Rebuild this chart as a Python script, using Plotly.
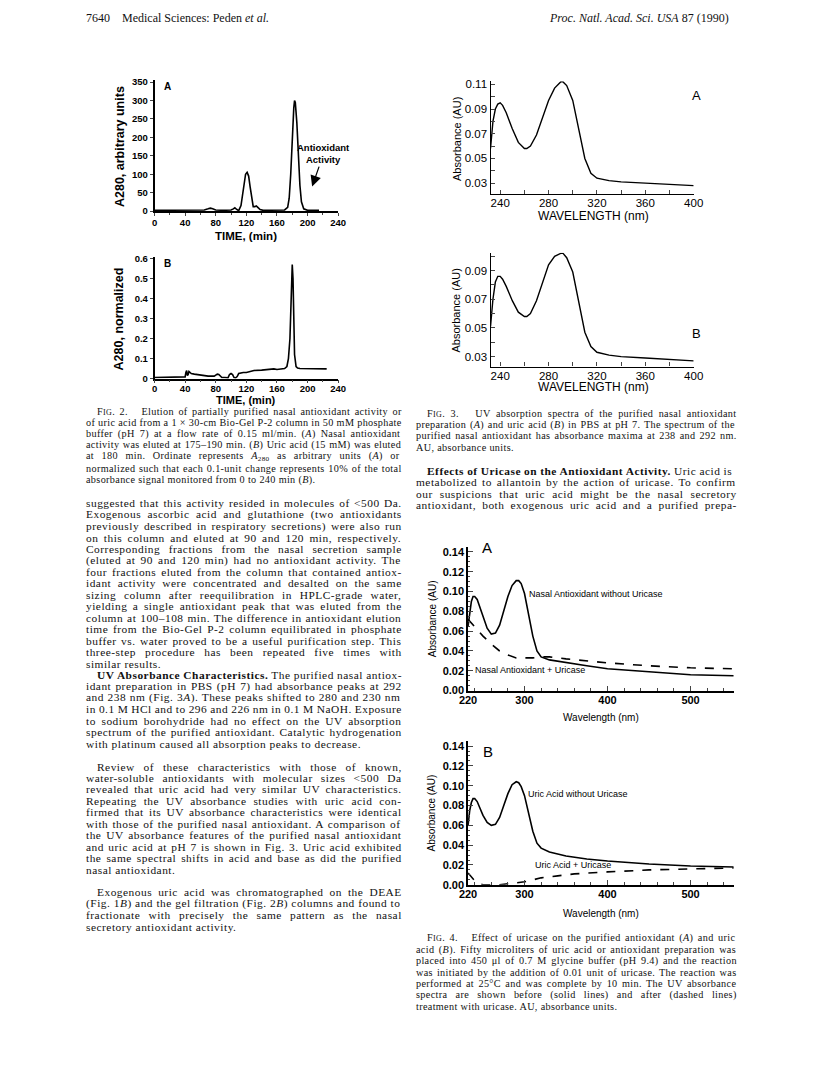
import re
import plotly.graph_objects as go

W, H = 816, 1082
SANS = "Liberation Sans, Arial, sans-serif"
NARROW = "Liberation Sans Narrow, Arial Narrow, Liberation Sans, sans-serif"
SERIF = "Liberation Serif, Times New Roman, serif"

# ---- Fig. 2A: elution of nasal antioxidant, arbitrary units ----
fig2a_time = [0, 10, 20, 30, 40, 50, 60, 65, 70, 73, 76, 80, 90, 100, 103, 105, 107, 110,
              113, 115, 117, 119, 121, 123, 125, 127, 129, 131, 133, 135, 138, 142, 150,
              160, 170, 174, 176, 178, 180, 182, 183, 184, 186, 188, 190, 192, 195, 200, 210, 215]
fig2a_a280 = [2, 2, 2, 2, 2, 2, 2, 3, 6, 8, 6, 3, 2, 3, 6, 9, 5, 1,
              15, 40, 75, 100, 105, 95, 65, 30, 12, 12, 14, 10, 4, 2, 2,
              2, 3, 10, 35, 100, 200, 280, 300, 295, 240, 150, 70, 25, 6, 2, 2, 2]

# ---- Fig. 2B: uric acid, normalized ----
fig2b_time = [0, 10, 20, 30, 38, 40, 41, 42, 43, 44, 45, 46, 48, 52, 60, 70, 78, 80, 82, 84,
              86, 88, 92, 96, 98, 100, 102, 104, 106, 108, 110, 112, 116, 120, 125, 130, 140,
              148, 152, 156, 160, 165, 170, 173, 175, 177, 178, 179, 180, 181, 182, 183, 185,
              187, 190, 200, 210, 225]
fig2b_norm = [0.005, 0.005, 0.005, 0.005, 0.006, 0.008, 0.03, 0.04, 0.015, 0.02, 0.035, 0.03,
              0.025, 0.022, 0.018, 0.012, 0.012, 0.015, 0.022, 0.02, 0.01, 0.005, 0.005, 0.003,
              0.02, 0.025, 0.02, 0.005, 0.003, 0.01, 0.025, 0.028, 0.03, 0.03, 0.035, 0.04, 0.042,
              0.045, 0.05, 0.048, 0.045, 0.046, 0.05, 0.06, 0.1, 0.2, 0.35, 0.5, 0.57, 0.5, 0.3,
              0.12, 0.06, 0.052, 0.05, 0.05, 0.048, 0.048]

# ---- Fig. 3: UV spectra in PBS ----
fig3_nm = [232, 234, 236, 238, 240, 242, 245, 250, 255, 260, 262, 265, 270, 275, 280, 285,
           290, 292, 295, 300, 305, 310, 315, 320, 330, 340, 360, 380, 400]
fig3a_abs = [0.058, 0.08, 0.09, 0.094, 0.095, 0.093, 0.087, 0.074, 0.063, 0.058, 0.058, 0.060,
             0.069, 0.083, 0.097, 0.107, 0.112, 0.112, 0.109, 0.097, 0.074, 0.050, 0.038,
             0.034, 0.032, 0.031, 0.030, 0.029, 0.028]
fig3b_abs = [0.051, 0.07, 0.082, 0.086, 0.086, 0.084, 0.079, 0.069, 0.061, 0.058, 0.058, 0.060,
             0.069, 0.082, 0.094, 0.100, 0.102, 0.102, 0.099, 0.089, 0.068, 0.047, 0.037,
             0.033, 0.031, 0.030, 0.029, 0.028, 0.027]

# ---- Fig. 4: effect of uricase ----
fig4_nm = [232, 234, 236, 238, 240, 243, 246, 250, 255, 260, 265, 270, 275, 280, 285, 290,
           293, 296, 300, 305, 310, 315, 320, 330, 350, 375, 400, 450, 500, 552]
fig4a_before = [0.065, 0.08, 0.09, 0.095, 0.095, 0.092, 0.085, 0.074, 0.063, 0.057, 0.058,
                0.066, 0.080, 0.095, 0.106, 0.111, 0.111, 0.108, 0.098, 0.078, 0.055, 0.040,
                0.034, 0.031, 0.028, 0.025, 0.022, 0.019, 0.016, 0.015]
fig4a_after_nm = [232, 240, 250, 260, 270, 280, 290, 300, 310, 320, 330, 350, 400, 450, 500, 552]
fig4a_after = [0.072, 0.064, 0.055, 0.047, 0.040, 0.036, 0.033, 0.033, 0.033, 0.034, 0.034,
               0.032, 0.028, 0.025, 0.023, 0.022]
fig4b_before = [0.06, 0.075, 0.083, 0.087, 0.087, 0.084, 0.078, 0.070, 0.063, 0.060, 0.061,
                0.068, 0.080, 0.092, 0.101, 0.104, 0.103, 0.099, 0.090, 0.072, 0.054, 0.042,
                0.037, 0.033, 0.029, 0.026, 0.024, 0.021, 0.019, 0.018]
fig4b_after_nm = [232, 236, 240, 245, 250, 260, 270, 280, 290, 300, 310, 320, 340, 360, 400,
                  450, 500, 552]
fig4b_after = [0.012, 0.008, 0.004, 0.001, 0.0, 0.0, 0.0, 0.001, 0.002, 0.003, 0.005, 0.007,
               0.009, 0.011, 0.013, 0.015, 0.016, 0.017]
fig4_xtick_vals = [232, 300, 400, 500]
fig4_xtick_text = ["220", "300", "400", "500"]


def px(x):
    return x / W


def py(y):
    return 1 - y / H


fig = go.Figure()


def line_trace(x, y, ax, dash="solid", width=1.6):
    fig.add_trace(go.Scatter(x=x, y=y, mode="lines", xaxis="x" + ax, yaxis="y" + ax,
                             line=dict(color="black", width=width, dash=dash),
                             showlegend=False, hoverinfo="skip"))


line_trace(fig2a_time, fig2a_a280, "")
line_trace(fig2b_time, fig2b_norm, "2")
line_trace(fig3_nm, fig3a_abs, "3", width=1.4)
line_trace(fig3_nm, fig3b_abs, "4", width=1.4)
line_trace(fig4_nm, fig4a_before, "5")
line_trace(fig4a_after_nm, fig4a_after, "5", dash="dash")
line_trace(fig4_nm, fig4b_before, "6")
line_trace(fig4b_after_nm, fig4b_after, "6", dash="dash")


def axis(x0, x1, rng, anchor, **kw):
    d = dict(domain=[x0, x1], range=rng, anchor=anchor, showgrid=False, zeroline=False,
             showline=True, linecolor="black", mirror=False)
    d.update(kw)
    return d


f2tick = dict(family=SANS, size=9.5, color="black", weight="bold")
f3tick = dict(family=SANS, size=11.5, color="black")
f4tick = dict(family=NARROW, size=11, color="black", weight="bold")

f2x = dict(dtick=40, tick0=0, ticks="outside", ticklen=3, linewidth=1.5, tickwidth=1.2,
           tickfont=f2tick, minor=dict(dtick=20, ticks="outside", ticklen=2, tickwidth=1))
f2y = dict(ticks="outside", ticklen=3, linewidth=1.5, tickwidth=1.2, tickfont=f2tick)
f3x = dict(dtick=40, tick0=240, ticks="inside", ticklen=4, linewidth=1.3, tickwidth=1.1,
           tickfont=f3tick, ticklabelstandoff=-2,
           minor=dict(dtick=20, ticks="inside", ticklen=4, tickwidth=1))
f3y = dict(dtick=0.02, tick0=0.03, ticks="inside", ticklen=4, linewidth=1.3, tickwidth=1.1,
           tickformat=".2f", tickfont=f3tick,
           minor=dict(dtick=0.01, ticks="inside", ticklen=4, tickwidth=1))
f4x = dict(tickmode="array", tickvals=fig4_xtick_vals, ticktext=fig4_xtick_text,
           ticks="inside", ticklen=5, linewidth=1.5, tickwidth=1.2, tickfont=f4tick,
           ticklabelstandoff=-2,
           minor=dict(tickmode="linear", tick0=300, dtick=20, ticks="inside", ticklen=3,
                      tickwidth=1))
f4y = dict(dtick=0.02, tick0=0, ticks="inside", ticklen=5, linewidth=1.5, tickwidth=1.2,
           tickformat=".2f", tickfont=f4tick,
           minor=dict(dtick=0.005, ticks="inside", ticklen=2, tickwidth=1))

fig.update_layout(
    width=W, height=H, autosize=False,
    margin=dict(l=0, r=0, t=0, b=0),
    paper_bgcolor="white", plot_bgcolor="white",
    # Fig. 2A / 2B
    xaxis=axis(px(149), px(337), [0, 240], "y", ticklabelstandoff=-1, **f2x),
    yaxis=axis(py(209), py(77), [0, 355], "x", dtick=50, **f2y),
    xaxis2=axis(px(149), px(337), [0, 240], "y2", ticklabelstandoff=-3, **f2x),
    yaxis2=axis(py(378), py(255), [0, 0.61], "x2", dtick=0.1, **f2y),
    # Fig. 3A / 3B
    xaxis3=axis(px(493), px(701), [232, 400], "y3", **f3x),
    yaxis3=axis(py(192), py(78), [0.021, 0.1125], "x3", **f3y),
    xaxis4=axis(px(493), px(701), [232, 400], "y4", **f3x),
    yaxis4=axis(py(366), py(251), [0.023, 0.1025], "x4", **f3y),
    # Fig. 4A / 4B
    xaxis5=axis(px(470), px(742), [232, 552], "y5", **f4x),
    yaxis5=axis(py(693), py(548), [0, 0.145], "x5", **f4y),
    xaxis6=axis(px(470), px(742), [232, 552], "y6", **f4x),
    yaxis6=axis(py(889), py(744), [0, 0.145], "x6", **f4y),
)

ann = []


def txt(x, y, s, size=11.4, family=SERIF, anchor="left", angle=0, weight="normal",
        color="#111111"):
    ann.append(dict(x=px(x), y=py(y), xref="paper", yref="paper", text=s, showarrow=False,
                    xanchor=anchor, yanchor="middle", textangle=angle,
                    font=dict(family=family, size=size, color=color, weight=weight)))


# Times advance widths (1/1000 em) to justify the column text like the printed page
TIMES = {" ": 250, "\u00a0": 250, "!": 333, "%": 833, "'": 333, "(": 333, ")": 333,
         "+": 564, ",": 250, "-": 333, ".": 250, "/": 278, ":": 278, ";": 278, "<": 564,
         "×": 564, "–": 500, "μ": 500, "°": 400,
         "A": 722, "B": 667, "C": 667, "D": 722, "E": 611, "F": 556, "G": 722, "H": 722,
         "I": 333, "J": 389, "K": 722, "L": 611, "M": 889, "N": 722, "O": 722, "P": 556,
         "Q": 722, "R": 667, "S": 556, "T": 611, "U": 722, "V": 722, "W": 944, "X": 722,
         "Y": 722, "Z": 611,
         "a": 444, "b": 500, "c": 444, "d": 500, "e": 444, "f": 333, "g": 500, "h": 500,
         "i": 278, "j": 278, "k": 500, "l": 278, "m": 778, "n": 500, "o": 500, "p": 500,
         "q": 500, "r": 333, "s": 389, "t": 278, "u": 500, "v": 500, "w": 722, "x": 500,
         "y": 500, "z": 444}


def measure(s, size, ls):
    w, bold, scale, nsp = 0.0, False, 1.0, 0
    for tok in re.split(r"(<[^>]+>)", s):
        if tok.startswith("<") and tok.endswith(">"):
            t = tok.lower()
            if t == "<b>":
                bold = True
            elif t == "</b>":
                bold = False
            elif t == "<sub>":
                scale = 0.7
            elif t in ("</sub>", "</span>"):
                scale = 1.0
            elif t.startswith("<span"):
                m = re.search(r"font-size:([\d.]+)px", t)
                scale = float(m.group(1)) / size if m else 1.0
            continue
        tok = tok.replace("&lt;", "<").replace("&nbsp;", "\u00a0")
        for ch in tok:
            w += TIMES.get(ch, 500) * (1.06 if bold else 1.0) * scale * size / 1000 + ls
            if ch in " \u00a0":
                nsp += 1
    return w, nsp


def block(lines, x_left, x_indent, right, y0, dy, size, ls, last):
    for i, s in enumerate(lines):
        if not s:
            continue
        x = x_left
        if s.startswith(">>"):
            s, x = s[2:], x_indent
        style = f"letter-spacing:{ls}px"
        if i not in last:
            w, nsp = measure(s, size, ls)
            ws = (right - x - 2 - w) / max(nsp, 1)
            style += f";word-spacing:{ws:.2f}px"
        txt(x, y0 + i * dy, f"<span style='{style}'>{s}</span>", size=size)


# running head
txt(77, 14, "7640&nbsp;&nbsp;&nbsp;&nbsp;Medical Sciences: Peden <i>et al.</i>", size=12)
txt(739, 14, "<i>Proc. Natl. Acad. Sci. USA</i> 87 (1990)", size=12, anchor="right")

# Fig. 2 axis titles / labels
txt(113, 144, "A280, arbitrary units", size=12.5, family=SANS, anchor="center", angle=-90,
    weight="bold", color="black")
txt(243, 234, "TIME, (min)", size=11.5, family=SANS, anchor="center", weight="bold",
    color="black")
txt(113, 318, "A280, normalized", size=12.5, family=SANS, anchor="center", angle=-90,
    weight="bold", color="black")
txt(243, 400, "TIME, (min)", size=11, family=SANS, anchor="center", weight="bold",
    color="black")
txt(157, 83, "A", size=10, family=SANS, weight="bold", color="black")
txt(157, 262, "B", size=10, family=SANS, weight="bold", color="black")
# peak label with its arrow pointing at the antioxidant peak
ann.append(dict(x=206, y=67, xref="x", yref="y", ax=221, ay=156, axref="x", ayref="y",
                text="Antioxidant<br>Activity", showarrow=True, arrowhead=2, arrowsize=1.8,
                arrowwidth=1.2, arrowcolor="black",
                font=dict(family=SANS, size=9.5, color="black", weight="bold")))

# Fig. 3 axis titles / labels
txt(458, 136, "Absorbance (AU)", size=11, family=SANS, anchor="center", angle=-90, color="black")
txt(598, 214, "WAVELENGTH (nm)", size=12, family=SANS, anchor="center", color="black")
txt(458, 309, "Absorbance (AU)", size=11, family=SANS, anchor="center", angle=-90, color="black")
txt(598, 387, "WAVELENGTH (nm)", size=12, family=SANS, anchor="center", color="black")
txt(697, 92, "A", size=13, family=SANS, color="black")
txt(697, 333, "B", size=13, family=SANS, color="black")

# Fig. 4 axis titles / labels
txt(433, 620, "Absorbance (AU)", size=10, family=SANS, anchor="center", angle=-90,
    color="black")
txt(606, 720, "Wavelength (nm)", size=10, family=SANS, anchor="center", color="black")
txt(433, 816, "Absorbance (AU)", size=10, family=SANS, anchor="center", angle=-90,
    color="black")
txt(606, 918, "Wavelength (nm)", size=10, family=SANS, anchor="center", color="black")
txt(482, 549, "A", size=15, family=SANS, color="black")
txt(483, 754, "B", size=15, family=SANS, color="black")
txt(530, 596, "Nasal Antioxidant without Uricase", size=9, family=NARROW, color="black")
txt(475, 672, "Nasal Antioxidant + Uricase", size=9, family=NARROW, color="black")
txt(529, 797, "Uric Acid without Uricase", size=9, family=NARROW, color="black")
txt(537, 869, "Uric Acid + Uricase", size=9, family=NARROW, color="black")

SC = "<span style='font-size:8px'>IG</span>"
NB = "&nbsp;&nbsp;&nbsp;"
CAP = 10.2
BODY = 11.4

cap2 = [
    f">>F{SC}. 2.{NB}Elution of partially purified nasal antioxidant activity or",
    "of uric acid from a 1 × 30-cm Bio-Gel P-2 column in 50 mM phosphate",
    "buffer (pH 7) at a flow rate of 0.15 ml/min. (<i>A</i>) Nasal antioxidant",
    "activity was eluted at 175–190 min. (<i>B</i>) Uric acid (15 mM) was eluted",
    "at 180 min. Ordinate represents <i>A</i><sub>280</sub> as arbitrary units (<i>A</i>) or",
    "normalized such that each 0.1-unit change represents 10% of the total",
    "absorbance signal monitored from 0 to 240 min (<i>B</i>).",
]
block(cap2, 77, 88, 395, 411, 11.5, CAP, 0.35, {6})

body_left = [
    "suggested that this activity resided in molecules of &lt;500 Da.",
    "Exogenous ascorbic acid and glutathione (two antioxidants",
    "previously described in respiratory secretions) were also run",
    "on this column and eluted at 90 and 120 min, respectively.",
    "Corresponding fractions from the nasal secretion sample",
    "(eluted at 90 and 120 min) had no antioxidant activity. The",
    "four fractions eluted from the column that contained antiox-",
    "idant activity were concentrated and desalted on the same",
    "sizing column after reequilibration in HPLC-grade water,",
    "yielding a single antioxidant peak that was eluted from the",
    "column at 100–108 min. The difference in antioxidant elution",
    "time from the Bio-Gel P-2 column equilibrated in phosphate",
    "buffer vs. water proved to be a useful purification step. This",
    "three-step procedure has been repeated five times with",
    "similar results.",
    ">><b>UV Absorbance Characteristics.</b> The purified nasal antiox-",
    "idant preparation in PBS (pH 7) had absorbance peaks at 292",
    "and 238 nm (Fig. 3<i>A</i>). These peaks shifted to 280 and 230 nm",
    "in 0.1 M HCl and to 296 and 226 nm in 0.1 M NaOH. Exposure",
    "to sodium borohydride had no effect on the UV absorption",
    "spectrum of the purified antioxidant. Catalytic hydrogenation",
    "with platinum caused all absorption peaks to decrease.",
    "",
    ">>Review of these characteristics with those of known,",
    "water-soluble antioxidants with molecular sizes &lt;500 Da",
    "revealed that uric acid had very similar UV characteristics.",
    "Repeating the UV absorbance studies with uric acid con-",
    "firmed that its UV absorbance characteristics were identical",
    "with those of the purified nasal antioxidant. A comparison of",
    "the UV absorbance features of the purified nasal antioxidant",
    "and uric acid at pH 7 is shown in Fig. 3. Uric acid exhibited",
    "the same spectral shifts in acid and base as did the purified",
    "nasal antioxidant.",
    "",
    ">>Exogenous uric acid was chromatographed on the DEAE",
    "(Fig. 1<i>B</i>) and the gel filtration (Fig. 2<i>B</i>) columns and found to",
    "fractionate with precisely the same pattern as the nasal",
    "secretory antioxidant activity.",
]
block(body_left, 77, 88, 395, 504, 11.55, BODY, 0.5, {14, 21, 32, 37})

cap3 = [
    f">>F{SC}. 3.{NB}UV absorption spectra of the purified nasal antioxidant",
    "preparation (<i>A</i>) and uric acid (<i>B</i>) in PBS at pH 7. The spectrum of the",
    "purified nasal antioxidant has absorbance maxima at 238 and 292 nm.",
    "AU, absorbance units.",
]
block(cap3, 415, 426, 738, 413, 11.5, CAP, 0.35, {3})

body_right = [
    ">><b>Effects of Uricase on the Antioxidant Activity.</b> Uric acid is",
    "metabolized to allantoin by the action of uricase. To confirm",
    "our suspicions that uric acid might be the nasal secretory",
    "antioxidant, both exogenous uric acid and a purified prepa-",
]
block(body_right, 415, 426, 738, 471, 11.55, BODY, 0.5, set())

cap4 = [
    f">>F{SC}. 4.{NB}Effect of uricase on the purified antioxidant (<i>A</i>) and uric",
    "acid (<i>B</i>). Fifty microliters of uric acid or antioxidant preparation was",
    "placed into 450 μl of 0.7 M glycine buffer (pH 9.4) and the reaction",
    "was initiated by the addition of 0.01 unit of uricase. The reaction was",
    "performed at 25°C and was complete by 10 min. The UV absorbance",
    "spectra are shown before (solid lines) and after (dashed lines)",
    "treatment with uricase. AU, absorbance units.",
]
block(cap4, 415, 426, 738, 943, 11.4, CAP, 0.35, {6})

fig.update_layout(annotations=ann)
# drop the default 8px page margin so the figure sits at the window origin
fig.write_html("out.html", config={"displayModeBar": False},
               post_script="document.body.style.margin='0px';")
